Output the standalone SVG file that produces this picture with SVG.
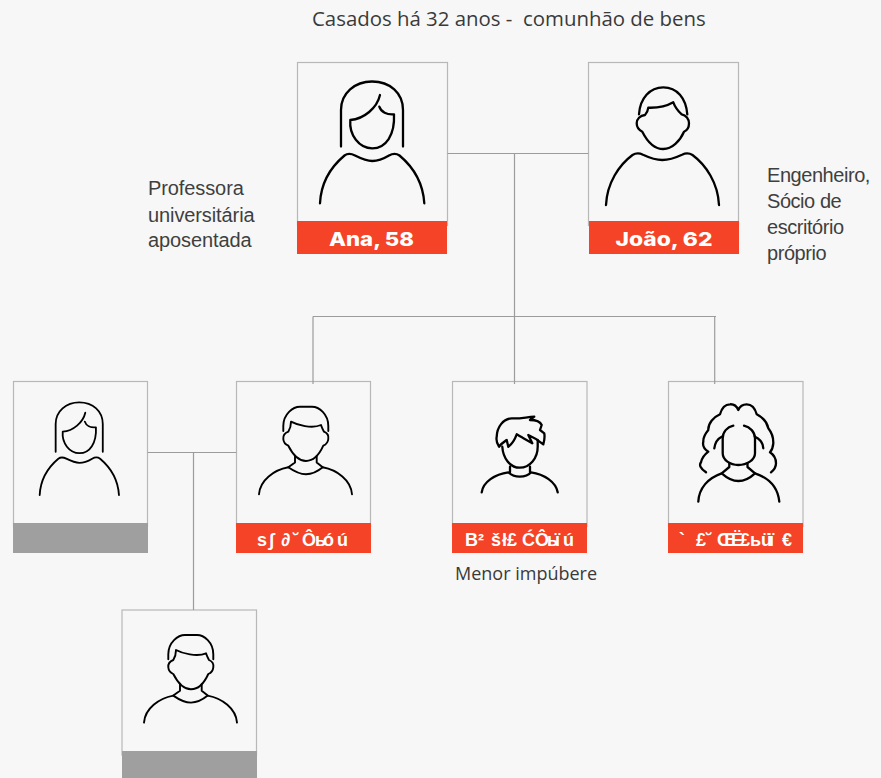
<svg xmlns="http://www.w3.org/2000/svg" width="881" height="778" viewBox="0 0 881 778">
<style>
.box{fill:#f7f7f7;stroke:#b8b8b8;stroke-width:1.2}
.red{fill:#f44327}
.grey{fill:#9f9f9f}
.ic{fill:none;stroke:#000;stroke-width:2.3;stroke-linecap:round;stroke-linejoin:round}
.ics{fill:none;stroke:#000;stroke-width:1.9;stroke-linecap:round;stroke-linejoin:round}
.conn{fill:none;stroke:#9c9c9c;stroke-width:1.2}
.t{font-family:"Open Sans",sans-serif;fill:#3a3a3a}
.n{font-family:"Liberation Sans",Arial,sans-serif;font-size:20px;fill:#3f3f3f}
.lab{font-family:"Inter","Liberation Sans",sans-serif;font-weight:800;fill:#fff;text-anchor:middle}
.g{font-family:"Liberation Sans","DejaVu Sans",sans-serif;font-weight:700;font-size:18px;fill:#fff}
</style>
<defs>
<g id="man">
<path d="M283.300 431V426C283.300 414 293 406.700 300 406.700H312C319 406.700 328.300 414 328.300 426V431"/>
<path d="M291 421.700C297 425 312 429 321 425C322 428 323 430 324 431.700C327 433 328.800 436 328.300 439C328 442 326 444.500 323.300 445.700C320 453 314 461 306 461C298 461 292 453 288.300 445.700C285.500 444.500 283.500 442 283.300 439C283 436 285 433 288.300 431.700C290 429 291 425 291 421.700Z"/>
<path d="M295 456V462.500L288.300 467.300M316.700 456V462.500L322.700 467.300"/>
<path d="M259 494.300C260 480 274 470 288.300 467.300C295 472 300 474.300 306 474.300C312 474.300 317 472 322.700 467.300C337 470 351 480 352 494.300"/>
</g>
<g id="woman">
<path d="M341 146.500V110C341 93 355 81.500 372 81.500C390 81.500 403 93 403 110V146.500"/>
<path d="M380 95C377 108 364 119 350.300 120C349 135 359 148.300 372.300 148.300C386 148.300 395 135 394 114.300C387 115 381 112 379.300 106.700"/>
<path d="M320 203.300C321 182 332 166 344.500 155.500C348 153 351 153.500 355 155.500C361 158.500 366 161 372.300 161C379 161 384 158.500 389 155.500C392.500 153.500 396 153 399.500 155.500C412 166 423 182 424.300 203.300"/>
</g>
</defs>
<rect width="881" height="778" fill="#f7f7f7"/>
<text class="t" x="312" y="25.500" font-size="20.400" xml:space="preserve">Casados há 32 anos -  comunhão de bens</text>
<g id="ana">
<rect class="box" x="297.500" y="62.500" width="150" height="163"/>
<rect class="red" x="297" y="221" width="150" height="33"/>
<use href="#woman" class="ic"/>
<text class="lab" x="371.500" y="246" font-size="19" textLength="85" lengthAdjust="spacingAndGlyphs">Ana, 58</text>
</g>
<g id="joao">
<rect class="box" x="588.500" y="62.500" width="150" height="163"/>
<rect class="red" x="589" y="221" width="150" height="33"/>
<g class="ic">
<path d="M639 114.300C640 98 650 87.300 663.300 87.300C677 87.300 686 98 687.300 114.300"/>
<path d="M648.300 107.700C658 108 667 106 673.300 102.300C675 107 678 111 681.700 114.300C686 115 689 119 689 123.300C689 127 687 130.500 684 131.700C680 141 672 149 663.300 149C654 149 647 141 642.300 131.700C639 130 636.700 127 636.700 123.300C636.700 119 640 115.500 645 115C647 113 648 110 648.300 107.700Z"/>
<path d="M606 205C607 183 619 165 632.500 155C636 152.700 639 152.700 643 154.700C649 157.500 655 160 662.300 160C670 160 676 157.500 682 154.700C686 152.700 689 152.700 692.500 155C706 165 718 183 719 205"/>
</g>
<text class="lab" x="664" y="246" font-size="19" textLength="97" lengthAdjust="spacingAndGlyphs">João, 62</text>
</g>
<text class="n" letter-spacing="-.1"><tspan x="148" y="195">Professora</tspan><tspan x="148" y="221.500">universitária</tspan><tspan x="148" y="247">aposentada</tspan></text>
<text class="n" letter-spacing="-.45"><tspan x="767" y="182">Engenheiro,</tspan><tspan x="767" y="208">Sócio de</tspan><tspan x="767" y="234">escritório</tspan><tspan x="767" y="260">próprio</tspan></text>
<g id="spouse">
<rect class="box" x="13.500" y="381.500" width="134" height="145"/>
<rect class="grey" x="13" y="523" width="135" height="30"/>
<use href="#woman" class="ics" transform="translate(-203.500 340.500) scale(.76)" style="stroke-width:2.400"/>
</g>
<g id="filho1">
<rect class="box" x="236.500" y="381.500" width="134" height="145"/>
<rect class="red" x="236" y="523" width="135" height="30"/>
<use href="#man" class="ics"/>
<text class="g" y="546" x="257 269 281 293 302 315 323 337">s∫∂˘Ôьóú</text>
</g>
<g id="filho2">
<rect class="box" x="452.500" y="381.500" width="134.500" height="145"/>
<rect class="red" x="452" y="523" width="135" height="30"/>
<g class="ic">
<path d="M502.300 446.700C503 458 510 467.700 519.700 467.700C530 467.700 537.700 458 537.700 446.700V440"/>
<path d="M510 466.700V472.300M530 466.700V472.300"/>
<path d="M481.700 492.300C483 482 495 474 508.300 472.300C512 476 516 476.700 519.700 476.700C524 476.700 528 476 531 472.300C544 474 556 482 557.700 492.300"/>
<path d="M499 446.700C496 442 496 440 496.700 436.700C497 427 503 419 511.700 418.300C519 419 527 417 534.300 416.700L530 420C535 420 540 421 541.700 425L540 430L544.300 433.300C545 438 544 442 543.300 444.300C538 440 533 437 528.300 435L532.300 443.300C527 440 521 437 516.700 434.300C515 439 512 444 508.300 446.700L506.700 440C504 442 501 444 499 446.700Z"/>
</g>
<text class="g" y="546" x="465 478 491 502 507 522 535 547 555 563">B²šł£ĆÔьïú</text>
</g>
<text class="t" x="455" y="580" font-size="18">Menor impúbere</text>
<g id="filha">
<rect class="box" x="668.500" y="381.500" width="134.500" height="145"/>
<rect class="red" x="668" y="523" width="135" height="30"/>
<g class="ic">
<path d="M706 472.300C700 468 699 465 701 462.300C702 458 704 455 708.300 451.700C704 449 702.500 445 703.300 441.700C703 437 705 434 708.300 430C708 423 714 417 720 414.300C722 407 726 404.300 730 404.300C734 404 737 407 738.300 410C740 406 743 404.300 746.700 404.300C751 404.300 755 408 756.700 414.300C762 417 767 422 768.300 428.300C772 433 773.500 438 773.300 443.300C773 447 772 450 770 452.300C774 455 776 459 776 463.300C776 467 774 470 771 472.300"/>
<path d="M733.300 425.700C727 427 722.700 432 722.700 438.300V453.300C722.700 460 730 465 738.300 465C747 465 755 460 755 453.300V438.300C755 432 750 427 744 425.700"/>
<path d="M714.300 448.300C715 443 717 439 721.700 436.700M763.300 448.300C763 443 760 439 755 436.700"/>
<path d="M729.300 463.300V467L721.700 473.300M747.500 463.300V467L755 473.300"/>
<path d="M698.300 501.700C699 488 708 478 721.700 473.300C727 478 732 481 738.300 481C745 481 750 478 755 473.300C769 478 778 488 779.300 501.700"/>
</g>
<text class="g" y="546" x="679 696 706 717 731 740 750 761 769 782">`£˘ŒË£ьüï€</text>
</g>
<g id="neto">
<rect class="box" x="122" y="610" width="134.500" height="145"/>
<rect class="grey" x="122" y="751" width="135" height="27"/>
<use href="#man" class="ics" transform="translate(-115 228.300)"/>
</g>
<g id="connectors" class="conn">
<path d="M447.500 153.500H588.500"/>
<path d="M514.500 153.500V384"/>
<path d="M313 316.500H716"/>
<path d="M313 316.500V384"/>
<path d="M714.700 316.500V384"/>
<path d="M147.500 452.500H236.500"/>
<path d="M193.500 452.500V610"/>
</g>
</svg>
